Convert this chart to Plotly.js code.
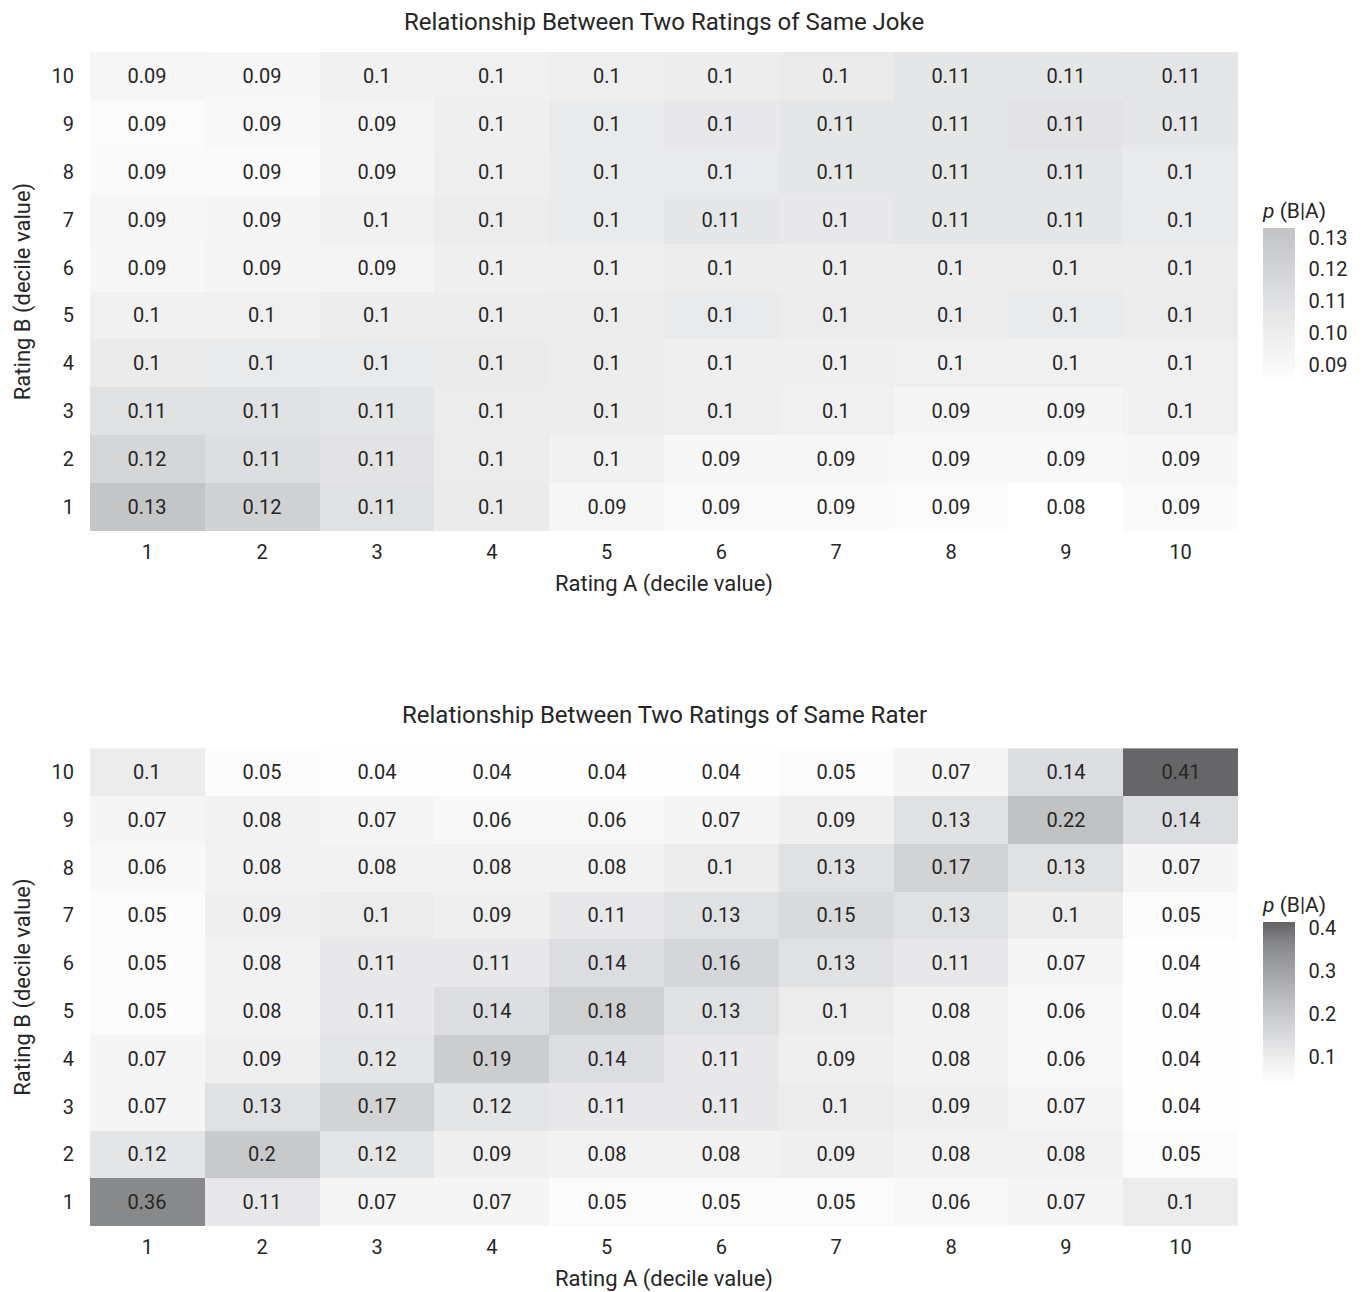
<!DOCTYPE html>
<html>
<head>
<meta charset="utf-8">
<script src="https://cdn.plot.ly/plotly-3.0.1.min.js"></script>
<style>html,body{margin:0;padding:0;background:#fff;}#chart{width:1367px;height:1292px;}</style>
</head>
<body>
<div id="chart"></div>
<script>
// Ratings (decile values)
const ratingA = [1, 2, 3, 4, 5, 6, 7, 8, 9, 10];
const ratingB = [1, 2, 3, 4, 5, 6, 7, 8, 9, 10];

// Same Joke: p(B|A), rows = Rating B 1..10, columns = Rating A 1..10
const jokeP = [
  [0.131, 0.122, 0.110, 0.102, 0.092, 0.089, 0.088, 0.087, 0.084, 0.088],
  [0.118, 0.112, 0.108, 0.101, 0.096, 0.091, 0.091, 0.090, 0.090, 0.091],
  [0.110, 0.110, 0.107, 0.101, 0.100, 0.099, 0.097, 0.093, 0.093, 0.096],
  [0.102, 0.103, 0.103, 0.102, 0.100, 0.098, 0.098, 0.097, 0.097, 0.097],
  [0.096, 0.097, 0.100, 0.100, 0.101, 0.103, 0.101, 0.101, 0.103, 0.101],
  [0.091, 0.093, 0.094, 0.098, 0.099, 0.100, 0.100, 0.100, 0.101, 0.100],
  [0.092, 0.093, 0.096, 0.101, 0.103, 0.106, 0.104, 0.106, 0.106, 0.103],
  [0.088, 0.088, 0.094, 0.099, 0.103, 0.103, 0.106, 0.106, 0.107, 0.103],
  [0.087, 0.090, 0.094, 0.098, 0.103, 0.104, 0.106, 0.106, 0.108, 0.106],
  [0.092, 0.091, 0.096, 0.097, 0.099, 0.100, 0.102, 0.106, 0.106, 0.107]
];

// Same Rater: p(B|A), rows = Rating B 1..10, columns = Rating A 1..10
const raterP = [
  [0.36, 0.11, 0.07, 0.07, 0.05, 0.05, 0.05, 0.06, 0.07, 0.10],
  [0.12, 0.20, 0.12, 0.09, 0.08, 0.08, 0.09, 0.08, 0.08, 0.05],
  [0.07, 0.13, 0.17, 0.12, 0.11, 0.11, 0.10, 0.09, 0.07, 0.04],
  [0.07, 0.09, 0.12, 0.19, 0.14, 0.11, 0.09, 0.08, 0.06, 0.04],
  [0.05, 0.08, 0.11, 0.14, 0.18, 0.13, 0.10, 0.08, 0.06, 0.04],
  [0.05, 0.08, 0.11, 0.11, 0.14, 0.16, 0.13, 0.11, 0.07, 0.04],
  [0.05, 0.09, 0.10, 0.09, 0.11, 0.13, 0.15, 0.13, 0.10, 0.05],
  [0.06, 0.08, 0.08, 0.08, 0.08, 0.10, 0.13, 0.17, 0.13, 0.07],
  [0.07, 0.08, 0.07, 0.06, 0.06, 0.07, 0.09, 0.13, 0.22, 0.14],
  [0.10, 0.05, 0.04, 0.04, 0.04, 0.04, 0.05, 0.07, 0.14, 0.41]
];

const jokeTicks = [0.09, 0.10, 0.11, 0.12, 0.13];
const raterTicks = [0.1, 0.2, 0.3, 0.4];

const titles = ["Relationship Between Two Ratings of Same Joke", "Relationship Between Two Ratings of Same Rater"];
const xTitle = "Rating A (decile value)";
const yTitle = "Rating B (decile value)";
const cbTitle = "<i>p</i> (B|A)";

const FONT = "Roboto, 'Liberation Sans', sans-serif";
const TXT = "#262626";

const jokeScale = [
  [0, "#ffffff"], [0.12, "#f8f8f8"], [0.33, "#ededee"], [0.53, "#e0e1e3"],
  [0.74, "#d2d3d5"], [0.94, "#c5c6c8"], [1, "#c2c3c5"]
];
const raterScale = [
  [0, "#ffffff"], [0.09, "#f5f5f5"], [0.17, "#ececed"], [0.275, "#dcdde0"],
  [0.38, "#cfd0d2"], [0.49, "#c1c2c4"], [0.86, "#88898b"], [1, "#636365"]
];

const common = {
  type: "heatmap",
  x: ratingA,
  y: ratingB,
  xgap: 0, ygap: 0,
  texttemplate: "%{z:.2~f}",
  textfont: {family: FONT, size: 20, color: TXT},
  hoverongaps: false
};

function cbar(yc, L, ticks, fmt) {
  return {
    x: 1.0218, xanchor: "left", xpad: 0, y: yc, yanchor: "middle",
    thickness: 32, len: L, lenmode: "pixels",
    outlinewidth: 0,
    tickvals: ticks, tickformat: fmt,
    ticks: "outside", ticklen: 10, tickcolor: "rgba(0,0,0,0)", tickwidth: 1,
    tickfont: {family: FONT, size: 20, color: TXT},
    title: {text: cbTitle, side: "top", font: {family: FONT, size: 21, color: TXT}}
  };
}

const traceJoke = Object.assign({}, common, {
  z: jokeP,
  xaxis: "x", yaxis: "y",
  colorscale: jokeScale, zmin: 0.084, zmax: 0.133,
  colorbar: cbar(0.796, 205, jokeTicks, ".2f")
});

const traceRater = Object.assign({}, common, {
  z: raterP,
  xaxis: "x2", yaxis: "y2",
  colorscale: raterScale, zmin: 0.036, zmax: 0.414,
  colorbar: cbar(0.2023, 211, raterTicks, ".1f")
});

function xax(anchor) {
  return {
    anchor: anchor, domain: [0, 1],
    tickvals: ratingA, ticktext: ratingA.map(String),
    showgrid: false, zeroline: false, showline: false, ticks: "",
    ticklabelstandoff: 7,
    tickfont: {family: FONT, size: 20, color: TXT},
    title: {text: xTitle, font: {family: FONT, size: 22, color: TXT}, standoff: 12},
    fixedrange: true
  };
}
function yax(anchor, dom) {
  return {
    anchor: anchor, domain: dom,
    tickvals: ratingB, ticktext: ratingB.map(String),
    showgrid: false, zeroline: false, showline: false, ticks: "",
    ticklabelstandoff: 15,
    tickfont: {family: FONT, size: 20, color: TXT},
    title: {text: yTitle, font: {family: FONT, size: 22, color: TXT}, standoff: 14},
    fixedrange: true
  };
}

const layout = {
  width: 1367, height: 1292,
  margin: {l: 90, r: 129, t: 52, b: 66, autoexpand: false},
  paper_bgcolor: "#ffffff", plot_bgcolor: "#ffffff",
  font: {family: FONT, color: TXT},
  xaxis: xax("y"),
  yaxis: yax("x", [0.592, 1]),
  xaxis2: xax("y2"),
  yaxis2: yax("x2", [0, 0.407]),
  annotations: [
    {text: titles[0], xref: "paper", yref: "paper", x: 0.5, y: 1, yshift: 30, xanchor: "center", yanchor: "middle", showarrow: false, font: {family: FONT, size: 24, color: TXT}},
    {text: titles[1], xref: "paper", yref: "paper", x: 0.5, y: 0.407, yshift: 33, xanchor: "center", yanchor: "middle", showarrow: false, font: {family: FONT, size: 24, color: TXT}}
  ],
  showlegend: false
};

Plotly.newPlot("chart", [traceJoke, traceRater], layout, {displayModeBar: false, staticPlot: true});
</script>
</body>
</html>
